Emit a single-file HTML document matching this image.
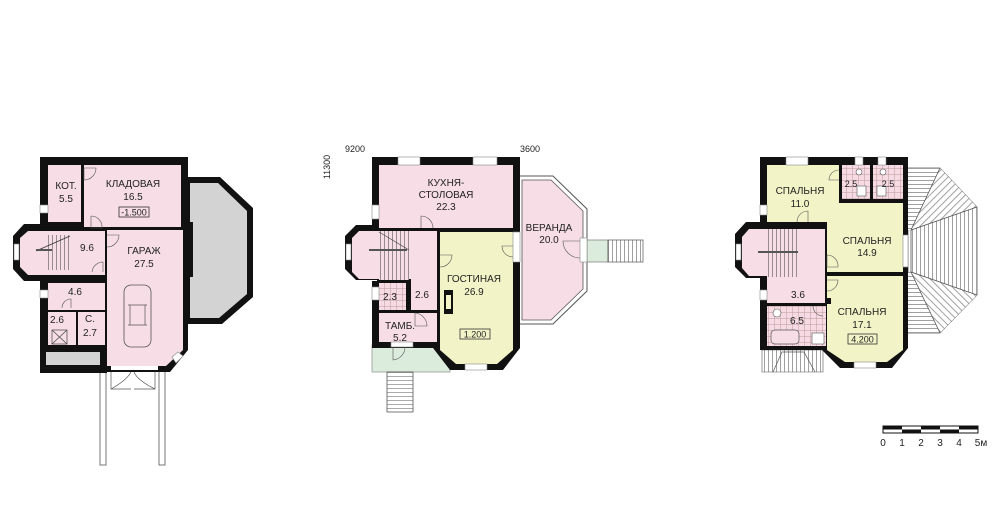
<!DOCTYPE html>
<html><head><meta charset="utf-8"><style>
html,body{margin:0;padding:0;background:#fff}
svg{display:block}
text{font-family:"Liberation Sans",sans-serif;font-size:10px;fill:#222;text-anchor:middle}
</style></head><body>
<svg width="1000" height="530" viewBox="0 0 1000 530" xmlns="http://www.w3.org/2000/svg">
<defs>
<pattern id="hh" width="4" height="4" patternUnits="userSpaceOnUse"><rect width="4" height="4" fill="#fff"/><line x1="0" y1="0.5" x2="4" y2="0.5" stroke="#777" stroke-width="0.7"/></pattern>
<pattern id="vv" width="4" height="4" patternUnits="userSpaceOnUse"><rect width="4" height="4" fill="#fff"/><line x1="0.5" y1="0" x2="0.5" y2="4" stroke="#777" stroke-width="0.7"/></pattern>
<pattern id="d1" width="5" height="5" patternUnits="userSpaceOnUse" patternTransform="rotate(45)"><rect width="5" height="5" fill="#fff"/><line x1="0.5" y1="0" x2="0.5" y2="5" stroke="#777" stroke-width="0.7"/></pattern>
<pattern id="d2" width="5" height="5" patternUnits="userSpaceOnUse" patternTransform="rotate(-45)"><rect width="5" height="5" fill="#fff"/><line x1="0.5" y1="0" x2="0.5" y2="5" stroke="#777" stroke-width="0.7"/></pattern>
<pattern id="tile" width="6" height="6" patternUnits="userSpaceOnUse"><rect width="6" height="6" fill="#f6dbe5"/><path d="M0 .5H6M.5 0V6" stroke="#b99" stroke-width="0.5"/></pattern>
<pattern id="st" width="4" height="40" patternUnits="userSpaceOnUse"><rect width="4" height="40" fill="#f6dde6"/><line x1="0.5" y1="0" x2="0.5" y2="40" stroke="#555" stroke-width="0.6"/></pattern>
<pattern id="sth" width="40" height="4" patternUnits="userSpaceOnUse"><rect width="40" height="4" fill="#fff"/><line x1="0" y1="0.5" x2="40" y2="0.5" stroke="#555" stroke-width="0.6"/></pattern>
</defs>

<!-- ================= PLAN 1 ================= -->
<!-- gray terrace -->
<polygon points="186,177 220,177 253,208 253,297 222,324 186,324" fill="#111"/>
<polygon points="190,183 218,183 247,211 247,294 219,318 190,318" fill="#d3d3d3"/>
<!-- porch posts -->
<rect x="100" y="368" width="6" height="97" fill="#fff" stroke="#777" stroke-width="1"/>
<rect x="159" y="368" width="6" height="97" fill="#fff" stroke="#777" stroke-width="1"/>
<path d="M111 370 V389 H131 M155 370 V389 H134" fill="none" stroke="#555" stroke-width="0.7"/>
<path d="M111 389 Q127 380 131 372 M155 389 Q137 380 134 372" fill="none" stroke="#555" stroke-width="0.7"/>
<!-- walls -->
<polygon points="40,157 188,157 188,222 193,222 193,277 188,277 188,350 170,372 107,372 107,373 40,373 40,281 48,281 48,224 40,224" fill="#111"/>
<polygon points="13,236 24,224 48,224 48,281 24,281 13,269" fill="#111"/>
<!-- rooms -->
<rect x="48" y="165" width="33" height="57" fill="#f6dde6"/>
<rect x="84" y="165" width="97" height="62" fill="#f6dde6"/>
<polygon points="107,230 183,230 183,350 166,366 107,366" fill="#f6dde6"/>
<polygon points="20,238 28,231 105,231 105,275 28,275 20,267" fill="#f6dde6"/>
<rect x="46" y="235" width="24" height="35" fill="url(#st)"/>
<line x1="36" y1="251" x2="70" y2="236" stroke="#333" stroke-width="0.7"/>
<rect x="36" y="249" width="16" height="2" fill="#555"/>
<rect x="48" y="283" width="57" height="27" fill="#f6dde6"/>
<rect x="48" y="312" width="28" height="33" fill="#f6dde6"/>
<rect x="52" y="330" width="15" height="14" fill="none" stroke="#444" stroke-width="0.7"/>
<path d="M52 330 L67 344 M67 330 L52 344" stroke="#444" stroke-width="0.7"/>
<rect x="78" y="312" width="27" height="33" fill="#f6dde6"/>
<rect x="46" y="352" width="54" height="13" fill="#d3d3d3"/>
<rect x="111" y="366" width="47" height="4" fill="#fff"/>
<!-- windows -->
<rect x="40" y="205" width="8" height="8" fill="#fff" stroke="#888" stroke-width="0.6"/>
<rect x="40" y="290" width="8" height="8" fill="#fff" stroke="#888" stroke-width="0.6"/>
<rect x="14" y="244" width="5" height="16" fill="#fff" stroke="#888" stroke-width="0.6"/>
<polygon points="172,357 178,352 183,356 176,363" fill="#fff" stroke="#888" stroke-width="0.6"/>
<!-- doors -->
<path d="M84 168 h12 a12 12 0 0 1 -12 12 z" fill="none" stroke="#555" stroke-width="0.6"/>
<path d="M91 216 v12 h11 a11 11 0 0 0 -11 -12" fill="none" stroke="#555" stroke-width="0.6"/>
<path d="M107 235 h12 a12 12 0 0 1 -12 12" fill="none" stroke="#555" stroke-width="0.6"/>
<path d="M92 272 a11 11 0 0 1 11 -10 v10" fill="none" stroke="#555" stroke-width="0.6"/>
<path d="M62 308 a9 9 0 0 1 9 -9 v9" fill="none" stroke="#555" stroke-width="0.6"/>
<!-- car -->
<rect x="124" y="285" width="27" height="62" rx="7" fill="none" stroke="#555" stroke-width="0.8"/>
<path d="M128 305 h19 M128 325 h19 M130 305 v20 M145 305 v20" stroke="#555" stroke-width="0.7" fill="none"/>
<text x="66" y="189">КОТ.</text><text x="66" y="202">5.5</text>
<text x="133" y="187">КЛАДОВАЯ</text><text x="133" y="200">16.5</text>
<rect x="119" y="207" width="30" height="10" fill="none" stroke="#333" stroke-width="0.8"/>
<text x="134" y="215.5" style="font-size:9px">-1.500</text>
<text x="87" y="251">9.6</text>
<text x="144" y="254">ГАРАЖ</text><text x="144" y="267">27.5</text>
<text x="75" y="295">4.6</text>
<text x="57" y="323">2.6</text>
<text x="90" y="322">С.</text><text x="90" y="336">2.7</text>

<!-- ================= PLAN 2 ================= -->
<text x="355" y="152" style="font-size:9px">9200</text>
<text x="530" y="152" style="font-size:9px">3600</text>
<text x="0" y="0" style="font-size:9px" transform="translate(330,167) rotate(-90)">11300</text>
<!-- porch & stairs -->
<rect x="372" y="345" width="78" height="27" fill="#dcecdc" stroke="#999" stroke-width="0.8"/>
<rect x="387" y="372" width="26" height="40" fill="url(#sth)" stroke="#555" stroke-width="0.8"/>
<!-- veranda -->
<polygon points="519,176 553,176 587,209 587,291 553,324 519,324" fill="#fff" stroke="#555" stroke-width="1"/>
<polygon points="522,180 551,180 583,211 583,289 551,320 522,320" fill="#f6dde6" stroke="#555" stroke-width="0.8"/>
<rect x="587" y="240" width="21" height="22" fill="#dcecdc" stroke="#777" stroke-width="0.7"/>
<rect x="608" y="240" width="35" height="22" fill="url(#vv)" stroke="#555" stroke-width="0.7"/>
<rect x="580" y="238" width="7" height="24" fill="#fff" stroke="#777" stroke-width="0.5"/>
<path d="M560 240 h18 a18 18 0 0 1 -0 0" fill="none"/>
<path d="M580 244 a16 16 0 0 1 -16 -2" fill="none"/>
<path d="M580 241 h-17 a17 17 0 0 0 17 17" fill="none" stroke="#555" stroke-width="0.6"/>
<!-- main walls -->
<polygon points="372,157 520,157 520,348 503,370 450,370 433,348 372,348 372,281 377,281 377,225 372,225" fill="#111"/>
<polygon points="345,236 356,225 378,225 378,280 356,280 345,269" fill="#111"/>
<rect x="379" y="165" width="134" height="63" fill="#f6dde6"/>
<polygon points="440,232 513,232 513,350 497,364 456,364 440,350" fill="#f3f3c8"/>
<polygon points="352,238 359,231 437,231 437,279 359,279 352,272" fill="#f6dde6"/>
<rect x="379" y="231" width="30" height="49" fill="url(#st)"/>
<rect x="369" y="249" width="38" height="2" fill="#555"/>
<line x1="379" y1="232" x2="409" y2="250" stroke="#333" stroke-width="0.6"/>
<rect x="411" y="231" width="26" height="79" fill="#f6dde6"/>
<rect x="379" y="283" width="27" height="27" fill="url(#tile)"/>
<rect x="379" y="313" width="58" height="29" fill="#f6dde6"/>
<rect x="444" y="290" width="9" height="24" fill="#111"/><rect x="446" y="295" width="5" height="14" fill="#f3f3c8"/>
<!-- windows plan2 -->
<rect x="398" y="157" width="22" height="8" fill="#fff" stroke="#888" stroke-width="0.6"/>
<rect x="473" y="157" width="24" height="8" fill="#fff" stroke="#888" stroke-width="0.6"/>
<rect x="372" y="205" width="7" height="14" fill="#fff" stroke="#888" stroke-width="0.6"/>
<rect x="372" y="287" width="7" height="13" fill="#fff" stroke="#888" stroke-width="0.6"/>
<rect x="346" y="244" width="5" height="16" fill="#fff" stroke="#888" stroke-width="0.6"/>
<rect x="465" y="364" width="22" height="6" fill="#fff" stroke="#888" stroke-width="0.6"/>
<rect x="513" y="232" width="7" height="30" fill="#fff" stroke="#888" stroke-width="0.6"/>
<rect x="391" y="342" width="22" height="5" fill="#fff" stroke="#888" stroke-width="0.6"/>
<!-- doors plan2 -->
<path d="M421 228 v-12 a12 12 0 0 1 12 12" fill="none" stroke="#555" stroke-width="0.6"/>
<path d="M440 255 h12 a12 12 0 0 1 -12 12" fill="none" stroke="#555" stroke-width="0.6"/>
<path d="M513 246 h-11 a11 11 0 0 0 11 11" fill="none" stroke="#555" stroke-width="0.6"/>
<path d="M415 313 v13 h12 a13 13 0 0 0 -12 -13" fill="none" stroke="#555" stroke-width="0.6"/>
<path d="M393 347 v13 a13 13 0 0 0 12 -13" fill="none" stroke="#555" stroke-width="0.6"/>
<text x="446" y="186">КУХНЯ-</text><text x="446" y="198">СТОЛОВАЯ</text><text x="446" y="210">22.3</text>
<text x="549" y="231">ВЕРАНДА</text><text x="549" y="243">20.0</text>
<text x="474" y="282">ГОСТИНАЯ</text><text x="474" y="295">26.9</text>
<text x="390" y="300">2.3</text><text x="422" y="298">2.6</text>
<text x="400" y="329">ТАМБ.</text><text x="400" y="341">5.2</text>
<rect x="460" y="329" width="30" height="10" fill="none" stroke="#333" stroke-width="0.8"/>
<text x="475" y="337.5" style="font-size:9px">1.200</text>

<!-- ================= PLAN 3 ================= -->
<!-- roof right -->
<polygon points="908,168 940,168 977,207 977,295 940,333 908,333" fill="#fff" stroke="#555" stroke-width="0.8"/>
<polygon points="908,168 940,168 911,230 908,230" fill="url(#hh)"/>
<polygon points="940,168 977,207 911,230" fill="url(#d1)"/>
<polygon points="911,230 977,207 977,295 911,272" fill="url(#vv)"/>
<polygon points="911,272 977,295 940,333" fill="url(#d2)"/>
<polygon points="908,272 911,272 940,333 908,333" fill="url(#hh)"/>
<path d="M940 168 L911 230 L977 207 M977 295 L911 272 L940 333 M911 230 V272" stroke="#555" stroke-width="0.8" fill="none"/>
<!-- roof bottom -->
<polygon points="762,350 823,350 823,372 762,372" fill="url(#vv)" stroke="#555" stroke-width="0.6"/>
<path d="M773 372 L782 352 L804 352 L815 372" fill="none" stroke="#555" stroke-width="0.7"/>
<!-- walls -->
<polygon points="760,157 908,157 908,348 892,368 840,368 822,350 760,350 760,278 767,278 767,222 760,222" fill="#111"/>
<polygon points="735,234 746,222 768,222 768,278 746,278 735,267" fill="#111"/>
<rect x="767" y="165" width="72" height="57" fill="#f3f3c8"/>
<rect x="842" y="165" width="28" height="34" fill="url(#tile)"/>
<rect x="873" y="165" width="30" height="34" fill="url(#tile)"/>
<polygon points="838,203 903,203 903,272 827,272 827,218" fill="#f3f3c8"/>
<polygon points="827,276 903,276 903,350 887,362 845,362 827,350" fill="#f3f3c8"/>
<polygon points="742,237 749,229 825,229 825,303 767,303 767,276 749,276 742,268" fill="#f6dde6"/>
<rect x="767" y="229" width="30" height="48" fill="url(#st)"/>
<rect x="758" y="251" width="40" height="2" fill="#555"/>
<rect x="767" y="306" width="59" height="40" fill="url(#tile)"/>
<rect x="771" y="330" width="28" height="14" rx="4" fill="#f6dde6" stroke="#555" stroke-width="0.7"/>
<rect x="812" y="333" width="12" height="11" fill="#fff" stroke="#555" stroke-width="0.6"/>
<circle cx="777" cy="313" r="4" fill="#fff" stroke="#555" stroke-width="0.6"/>
<circle cx="859" cy="172" r="3" fill="#fff" stroke="#555" stroke-width="0.6"/>
<circle cx="883" cy="172" r="3" fill="#fff" stroke="#555" stroke-width="0.6"/>
<rect x="857" y="186" width="9" height="10" fill="#fff" stroke="#555" stroke-width="0.6"/>
<rect x="877" y="186" width="9" height="10" fill="#fff" stroke="#555" stroke-width="0.6"/>
<rect x="826" y="298" width="5" height="6" fill="#111"/>
<!-- windows plan3 -->
<rect x="786" y="157" width="22" height="8" fill="#fff" stroke="#888" stroke-width="0.6"/>
<rect x="855" y="157" width="8" height="8" fill="#fff" stroke="#888" stroke-width="0.6"/>
<rect x="878" y="157" width="8" height="8" fill="#fff" stroke="#888" stroke-width="0.6"/>
<rect x="760" y="205" width="7" height="10" fill="#fff" stroke="#888" stroke-width="0.6"/>
<rect x="760" y="290" width="7" height="10" fill="#fff" stroke="#888" stroke-width="0.6"/>
<rect x="736" y="244" width="5" height="16" fill="#fff" stroke="#888" stroke-width="0.6"/>
<rect x="903" y="235" width="5" height="32" fill="#fff" stroke="#888" stroke-width="0.6"/>
<rect x="854" y="362" width="22" height="6" fill="#fff" stroke="#888" stroke-width="0.6"/>
<!-- doors plan3 -->
<path d="M839 180 h-10 a10 10 0 0 1 10 -10" fill="none" stroke="#555" stroke-width="0.6"/>
<path d="M808 222 v-11 a11 11 0 0 0 -11 11" fill="none" stroke="#555" stroke-width="0.6"/>
<path d="M827 255 v12 h11 a11 11 0 0 0 -11 -12" fill="none" stroke="#555" stroke-width="0.6"/>
<path d="M827 280 h11 a11 11 0 0 1 -11 11" fill="none" stroke="#555" stroke-width="0.6"/>
<path d="M886 200 v12 a12 12 0 0 0 -0 0" fill="none"/>
<path d="M813 306 a10 10 0 0 0 10 10" fill="none" stroke="#555" stroke-width="0.6"/>
<text x="800" y="194">СПАЛЬНЯ</text><text x="800" y="207">11.0</text>
<text x="851" y="187" style="font-size:9px">2.5</text><text x="888" y="187" style="font-size:9px">2.5</text>
<text x="867" y="244">СПАЛЬНЯ</text><text x="867" y="256">14.9</text>
<text x="862" y="315">СПАЛЬНЯ</text><text x="862" y="328">17.1</text>
<text x="798" y="298">3.6</text>
<text x="797" y="324">6.5</text>
<rect x="848" y="334" width="29" height="10" fill="none" stroke="#333" stroke-width="0.8"/>
<text x="862.5" y="342.5" style="font-size:9px">4.200</text>

<!-- scale bar -->
<rect x="883" y="426" width="95" height="7" fill="#fff" stroke="#111" stroke-width="1"/>
<rect x="883" y="426" width="19" height="3.5" fill="#111"/>
<rect x="902" y="429.5" width="19" height="3.5" fill="#111"/>
<rect x="921" y="426" width="19" height="3.5" fill="#111"/>
<rect x="940" y="429.5" width="19" height="3.5" fill="#111"/>
<rect x="959" y="426" width="19" height="3.5" fill="#111"/>
<g style="font-size:9px">
<text x="883" y="446">0</text><text x="902" y="446">1</text><text x="921" y="446">2</text><text x="940" y="446">3</text><text x="959" y="446">4</text><text x="981" y="446">5м</text>
</g>
</svg>
</body></html>
